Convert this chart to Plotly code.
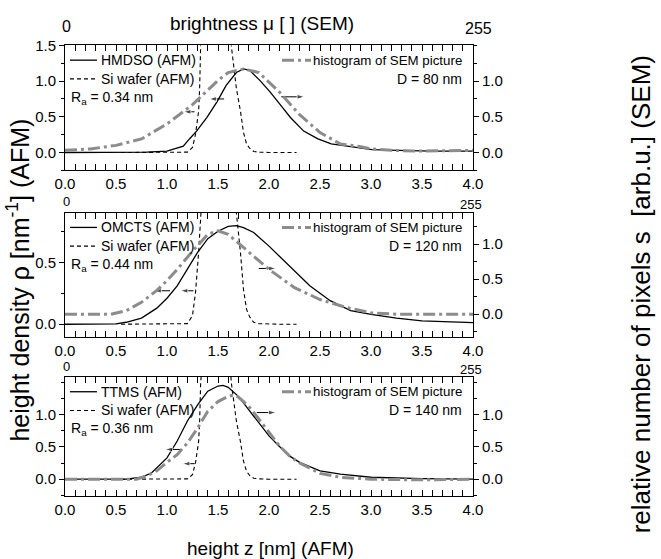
import plotly.graph_objects as go

# ---------------- data ----------------
x_axis_range = [0.0, 4.0]

# Si wafer reference (AFM), same in all panels
si_x = [0.55, 0.8, 1.0, 1.15, 1.2, 1.25, 1.28, 1.31, 1.32, 1.33, 1.36, 1.42, 1.5, 1.58, 1.63,
        1.68, 1.72, 1.75, 1.78, 1.81, 1.85, 1.9, 2.0, 2.1, 2.27]
si_y = [0.0, 0.0, 0.0, 0.0, 0.005, 0.07, 0.26, 0.58, 0.9, 1.5, 2.4, 3.0, 3.2, 2.9, 1.5,
        0.9, 0.58, 0.28, 0.12, 0.06, 0.015, 0.005, 0.0, 0.0, 0.0]

# panel 1: HMDSO
hmdso_x = [0.0, 0.5, 0.8, 1.0, 1.16, 1.22, 1.29, 1.39, 1.49, 1.58, 1.68, 1.75, 1.81, 1.91,
           2.01, 2.11, 2.21, 2.34, 2.48, 2.61, 2.81, 3.01, 3.27, 3.6, 4.0]
hmdso_y = [0.0, 0.0, 0.005, 0.02, 0.09, 0.19, 0.30, 0.49, 0.71, 0.94, 1.12, 1.17, 1.15, 1.01,
           0.85, 0.67, 0.49, 0.30, 0.19, 0.12, 0.08, 0.04, 0.03, 0.02, 0.02]
sem80_x = [0.0, 0.25, 0.5, 0.75, 1.0, 1.25, 1.5, 1.6, 1.75, 1.9, 2.1, 2.3, 2.5, 2.7, 2.9,
           3.0, 3.2, 3.5, 4.0]
sem80_y = [0.03, 0.05, 0.10, 0.19, 0.40, 0.67, 1.01, 1.12, 1.17, 1.12, 0.85, 0.53, 0.28, 0.12,
           0.08, 0.05, 0.03, 0.02, 0.03]

# panel 2: OMCTS
omcts_x = [0.0, 0.5, 0.6, 0.75, 0.9, 1.0, 1.1, 1.2, 1.3, 1.4, 1.5, 1.6, 1.68, 1.75, 1.85,
           2.0, 2.2, 2.4, 2.6, 2.8, 3.0, 3.25, 3.5, 3.75, 4.0]
omcts_y = [0.0, 0.003, 0.016, 0.05, 0.13, 0.21, 0.31, 0.45, 0.58, 0.69, 0.75, 0.79, 0.795,
           0.78, 0.74, 0.63, 0.47, 0.31, 0.19, 0.11, 0.08, 0.05, 0.027, 0.018, 0.013]
sem120_x = [0.0, 0.45, 0.6, 0.75, 0.9, 1.0, 1.1, 1.25, 1.4, 1.5, 1.6, 1.75, 1.9, 2.0, 2.25,
            2.5, 2.75, 3.0, 3.25, 3.5, 4.0]
sem120_y = [0.0, 0.0, 0.05, 0.17, 0.34, 0.48, 0.64, 0.90, 1.14, 1.19, 1.14, 0.95, 0.76, 0.64,
            0.38, 0.21, 0.10, 0.02, 0.0, 0.0, 0.0]

# panel 3: TTMS
ttms_x = [0.0, 0.6, 0.75, 0.85, 1.0, 1.1, 1.2, 1.3, 1.4, 1.5, 1.55, 1.6, 1.7, 1.8, 1.9, 2.0,
          2.1, 2.2, 2.3, 2.5, 2.7, 3.0, 3.5, 4.0]
ttms_y = [0.0, 0.0, 0.03, 0.10, 0.33, 0.59, 0.90, 1.15, 1.36, 1.44, 1.45, 1.42, 1.28, 1.08,
          0.87, 0.67, 0.51, 0.36, 0.26, 0.13, 0.08, 0.03, 0.01, 0.0]
sem140_x = [0.0, 0.7, 0.8, 0.9, 1.0, 1.1, 1.2, 1.3, 1.4, 1.5, 1.6, 1.65, 1.7, 1.8, 1.9, 2.0,
            2.1, 2.2, 2.3, 2.5, 2.7, 3.0, 3.5, 4.0]
sem140_y = [0.0, 0.0, 0.05, 0.13, 0.26, 0.38, 0.56, 0.79, 1.05, 1.20, 1.28, 1.30, 1.27, 1.13,
            0.93, 0.72, 0.52, 0.36, 0.25, 0.09, 0.03, 0.0, -0.01, 0.0]

sample_names = ["HMDSO (AFM)", "OMCTS (AFM)", "TTMS (AFM)"]
ra_values = ["0.34", "0.44", "0.36"]
d_values = ["80", "120", "140"]

# arrows per panel: (tail x, head x, y on the left axis)
arrows = [
    [(1.27, 1.16, 0.57), (1.56, 1.41, 0.75), (2.12, 2.35, 0.78)],
    [(1.03, 0.87, 0.27), (1.26, 1.13, 0.27), (1.90, 2.07, 0.45)],
    [(1.13, 0.98, 0.46), (1.27, 1.15, 0.24), (1.88, 2.07, 1.03)],
]

# ---------------- layout geometry ----------------
W, H = 661, 559
ML, MR = 65, 188
PW = W - ML - MR
tops = [37, 207, 374]
bots = [164, 333, 495]
left_ranges = [[-0.25, 1.5], [-0.1, 0.9], [-0.26, 1.58]]
right_ranges = [[-0.25, 1.5], [-0.32, 1.45], [-0.26, 1.58]]
left_ticks = [[0, 0.5, 1.0, 1.5], [0, 0.5], [0, 0.5, 1.0]]

FONT = "Liberation Sans, Arial, sans-serif"
GRAY = "#8c8c8c"
HIST_DASH = "12px,4px,3px,4px"


def fx(p):
    return (p - ML) / PW


def fy(p):
    return 1 - p / H


fig = go.Figure()

panels = [
    (hmdso_x, hmdso_y, sem80_x, sem80_y),
    (omcts_x, omcts_y, sem120_x, sem120_y),
    (ttms_x, ttms_y, sem140_x, sem140_y),
]

annotations = []
shapes = []
layout_axes = {}

for i, (sx, sy, hx, hy) in enumerate(panels):
    xa = "x" if i == 0 else f"x{i+1}"
    yl = "y" if i == 0 else f"y{2*i+1}"
    yr = f"y{2*i+2}"
    xa_key = "xaxis" if i == 0 else f"xaxis{i+1}"
    yl_key = "yaxis" if i == 0 else f"yaxis{2*i+1}"
    yr_key = f"yaxis{2*i+2}"
    dom = [fy(bots[i]), fy(tops[i])]

    fig.add_trace(go.Scatter(x=hx, y=hy, xaxis=xa, yaxis=yr, mode="lines",
                             line=dict(color=GRAY, width=3, dash=HIST_DASH),
                             showlegend=False))
    fig.add_trace(go.Scatter(x=si_x, y=si_y, xaxis=xa, yaxis=yl, mode="lines",
                             line=dict(color="black", width=1.1, dash="4px,3px"),
                             showlegend=False))
    fig.add_trace(go.Scatter(x=sx, y=sy, xaxis=xa, yaxis=yl, mode="lines",
                             line=dict(color="black", width=1.3),
                             showlegend=False))

    # arrows as small line traces with an arrow marker at the head
    for (tx, hxp, ay) in arrows[i]:
        fig.add_trace(go.Scatter(x=[tx, hxp], y=[ay, ay], xaxis=xa, yaxis=yl,
                                 mode="lines+markers",
                                 line=dict(color="black", width=1),
                                 marker=dict(symbol="arrow", size=[0, 8], color="black",
                                             angleref="previous", standoff=0),
                                 showlegend=False, hoverinfo="skip"))

    layout_axes[xa_key] = dict(
        domain=[0, 1], range=x_axis_range, anchor=yl, dtick=0.5, tick0=0,
        tickformat=".1f", ticks="inside", ticklen=6, tickwidth=1, tickcolor="black",
        showline=True, linecolor="black", linewidth=1, mirror="allticks",
        showgrid=False, zeroline=False,
        tickfont=dict(family=FONT, size=15, color="black"),
        minor=dict(dtick=0.1, tick0=0, ticks="inside", ticklen=3, tickcolor="black",
                   showgrid=False),
    )
    layout_axes[yl_key] = dict(
        domain=dom, range=left_ranges[i], anchor=xa, tickvals=left_ticks[i],
        tickformat=".1f", ticks="outside", ticklen=5, tickcolor="black",
        showline=True, linecolor="black", linewidth=1, showgrid=False, zeroline=False,
        tickfont=dict(family=FONT, size=15, color="black"),
        minor=dict(dtick=0.25, tick0=0, ticks="outside", ticklen=3, tickcolor="black",
                   showgrid=False),
    )
    layout_axes[yr_key] = dict(
        domain=dom, range=right_ranges[i], anchor=xa, overlaying=yl, side="right",
        tickvals=[0, 0.5, 1.0], tickformat=".1f", ticks="outside", ticklen=5,
        tickcolor="black", showline=True, linecolor="black", linewidth=1,
        showgrid=False, zeroline=False,
        tickfont=dict(family=FONT, size=15, color="black"),
        minor=dict(dtick=0.25, tick0=0, ticks="outside", ticklen=3, tickcolor="black",
                   showgrid=False),
    )

    # legend-like labels
    t = tops[i]
    r1, r2, r3 = t + 15, t + 34, t + 53
    shapes.append(dict(type="line", xref="paper", yref="paper", x0=fx(70), x1=fx(97),
                       y0=fy(r1), y1=fy(r1), line=dict(color="black", width=1.3)))
    shapes.append(dict(type="line", xref="paper", yref="paper", x0=fx(70), x1=fx(97),
                       y0=fy(r2), y1=fy(r2), line=dict(color="black", width=1.1, dash="4px,3px")))
    shapes.append(dict(type="line", xref="paper", yref="paper", x0=fx(282), x1=fx(311),
                       y0=fy(r1), y1=fy(r1), line=dict(color=GRAY, width=3, dash=HIST_DASH)))
    annotations += [
        dict(x=fx(99), y=fy(r1), xref="paper", yref="paper", text=sample_names[i],
             showarrow=False, xanchor="left", yanchor="middle",
             font=dict(family=FONT, size=14, color="black")),
        dict(x=fx(99), y=fy(r2), xref="paper", yref="paper", text="Si wafer (AFM)",
             showarrow=False, xanchor="left", yanchor="middle",
             font=dict(family=FONT, size=14, color="black")),
        dict(x=fx(69), y=fy(r3), xref="paper", yref="paper",
             text=f"R<sub>a</sub> = {ra_values[i]} nm",
             showarrow=False, xanchor="left", yanchor="middle",
             font=dict(family=FONT, size=14, color="black")),
        dict(x=fx(464), y=fy(r1), xref="paper", yref="paper",
             text="histogram of SEM picture",
             showarrow=False, xanchor="right", yanchor="middle",
             font=dict(family=FONT, size=13.3, color="black")),
        dict(x=fx(464), y=fy(r2), xref="paper", yref="paper",
             text=f"D = {d_values[i]} nm",
             showarrow=False, xanchor="right", yanchor="middle",
             font=dict(family=FONT, size=14, color="black")),
    ]
    # brightness scale ends
    small = 16 if i == 0 else 13
    annotations += [
        dict(x=fx(66), y=fy(t - 11 if i else t - 19), xref="paper", yref="paper", text="0",
             showarrow=False, xanchor="center", yanchor="middle",
             font=dict(family=FONT, size=small, color="black")),
        dict(x=fx(478 if i == 0 else 471), y=fy(t - 8 if i else t - 17), xref="paper",
             yref="paper", text="255", showarrow=False, xanchor="center", yanchor="middle",
             font=dict(family=FONT, size=small, color="black")),
    ]

# axis titles
annotations += [
    dict(x=fx(262), y=fy(15), xref="paper", yref="paper", text="brightness μ [ ] (SEM)",
         showarrow=False, xanchor="center", yanchor="middle",
         font=dict(family=FONT, size=19, color="black")),
    dict(x=fx(270), y=fy(548), xref="paper", yref="paper", text="height z [nm] (AFM)",
         showarrow=False, xanchor="center", yanchor="middle",
         font=dict(family=FONT, size=19, color="black")),
    dict(x=fx(18), y=fy(276), xref="paper", yref="paper",
         text="height density ρ [nm<sup>-1</sup>] (AFM)", textangle=-90,
         showarrow=False, xanchor="center", yanchor="middle",
         font=dict(family=FONT, size=25, color="black")),
    dict(x=fx(641), y=fy(290), xref="paper", yref="paper",
         text="relative number of pixels s  [arb.u.] (SEM)", textangle=-90,
         showarrow=False, xanchor="center", yanchor="middle",
         font=dict(family=FONT, size=26, color="black")),
]

fig.update_layout(
    width=W, height=H,
    margin=dict(l=ML, r=MR, t=0, b=0),
    paper_bgcolor="white", plot_bgcolor="white",
    showlegend=False,
    annotations=annotations, shapes=shapes,
    **layout_axes,
)

fig.write_html("out.html")
